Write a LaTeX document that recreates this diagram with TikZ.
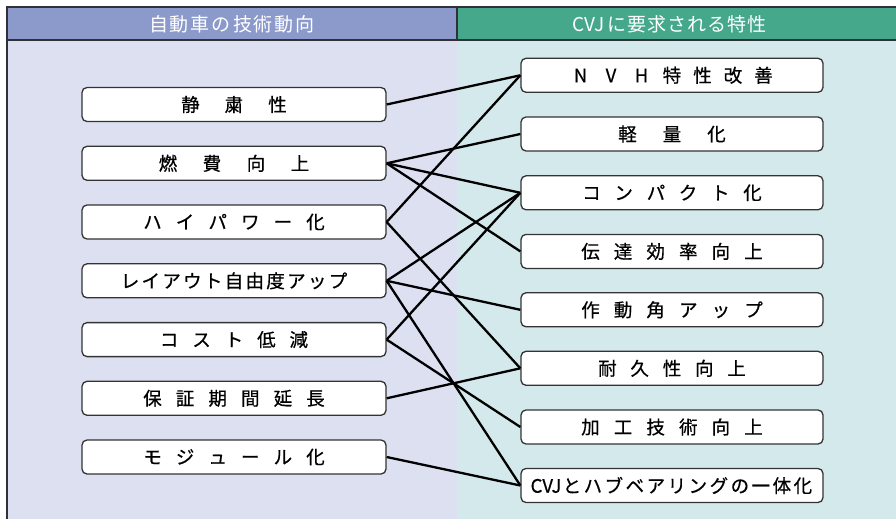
\documentclass[tikz,border=0pt]{standalone}
\usepackage{fontspec}
\newfontfamily\jp{Noto Sans CJK JP}[FakeBold=0.6]
\newfontfamily\jph{Noto Sans CJK JP}
\newcommand\spl[1]{\ifx#1\relax\else\makebox[\sppitch]{#1}\expandafter\spl\fi}
\newcommand\spaced[2]{\def\sppitch{#1}\spl#2\relax}
\definecolor{lbg}{HTML}{DCE0F1}
\definecolor{rbg}{HTML}{D4E9EC}
\definecolor{lhd}{HTML}{8C9ACB}
\definecolor{rhd}{HTML}{46A88A}
\definecolor{frame}{HTML}{2E3138}
\definecolor{boxline}{HTML}{333333}
\tikzset{
  hdline/.style={draw=frame,line width=1.8pt},
  hdtext/.style={text=white,font=\jph\fontsize{19}{19}\selectfont,inner sep=0pt},
  lbox/.style={draw=boxline,fill=white,rounded corners=5pt,line width=1.3pt,
    minimum width=304pt,minimum height=34pt,inner sep=0pt,
    font=\jp\fontsize{18.5}{18.5}\selectfont},
  rbox/.style={lbox,minimum width=302pt},
  conn/.style={line width=2.3pt,black}
}
\begin{document}
\begin{tikzpicture}[x=1pt,y=-1pt]
\useasboundingbox (0,0) rectangle (896,519);
\fill[lbg] (7,40) rectangle (457,519);
\fill[rbg] (457,40) rectangle (896,519);
\fill[lhd] (7,7) rectangle (457,40);
\fill[rhd] (457,7) rectangle (896,40);
\draw[hdline] (7,519) -- (7,7) -- (896,7);
\draw[hdline] (7,40) -- (896,40);
\draw[hdline] (457,7) -- (457,40);
\node[hdtext] (h1) at (232,24) {\spaced{21pt}{自動車の技術動向}};
\node[hdtext] (h2) at (670,24) {CVJ\,\spaced{20pt}{に要求される特性}};
% left boxes
\node[lbox] (a1) at (234,104.5) {\spaced{43.5pt}{静粛性}};
\node[lbox] (a2) at (234,163.3) {\spaced{44pt}{燃費向上}};
\node[lbox] (a3) at (234,222.0) {\spaced{32.6pt}{ハイパワー化}};
\node[lbox] (a4) at (234,280.8) {\spaced{20.8pt}{レイアウト自由度アップ}};
\node[lbox] (a5) at (234,339.6) {\spaced{32.4pt}{コスト低減}};
\node[lbox] (a6) at (234,398.3) {\spaced{32.6pt}{保証期間延長}};
\node[lbox] (a7) at (234,457.0) {\spaced{32.6pt}{モジュール化}};
% right boxes
\node[rbox] (b1) at (672,75.3) {\spaced{30.5pt}{NVH特性改善}};
\node[rbox] (b2) at (672,134.0) {\spaced{44.5pt}{軽量化}};
\node[rbox] (b3) at (672,192.8) {\spaced{32.2pt}{コンパクト化}};
\node[rbox] (b4) at (672,251.4) {\spaced{32.6pt}{伝達効率向上}};
\node[rbox] (b5) at (672,309.8) {\spaced{32.6pt}{作動角アップ}};
\node[rbox] (b6) at (672,368.3) {\spaced{32.3pt}{耐久性向上}};
\node[rbox] (b7) at (672,427.0) {\spaced{32.6pt}{加工技術向上}};
\node[rbox] (b8) at (672,485.5) {CVJ\spaced{21pt}{とハブベアリングの一体化}};
% connectors
\draw[conn] (a1.east) -- (b1.west);
\draw[conn] (a2.east) -- (b2.west);
\draw[conn] (a2.east) -- (b3.west);
\draw[conn] (a2.east) -- (b4.west);
\draw[conn] (a3.east) -- (b1.west);
\draw[conn] (a3.east) -- (b6.west);
\draw[conn] (a4.east) -- (b3.west);
\draw[conn] (a4.east) -- (b5.west);
\draw[conn] (a4.east) -- (b8.west);
\draw[conn] (a5.east) -- (b3.west);
\draw[conn] (a5.east) -- (b7.west);
\draw[conn] (a6.east) -- (b6.west);
\draw[conn] (a7.east) -- (b8.west);
\end{tikzpicture}
\end{document}
